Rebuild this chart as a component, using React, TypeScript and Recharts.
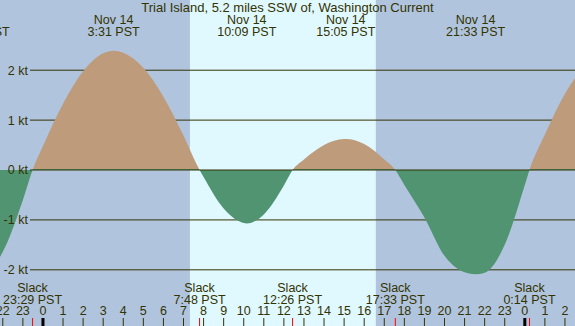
import React from "react";
import { ComposedChart, Area, XAxis, YAxis, ReferenceArea, ReferenceLine } from "recharts";

const W = 575;
const H = 326;
const FONT = '"Liberation Sans", Arial, sans-serif';
const FS = 12.5;
const INK = "#333300";
const NIGHT = "#B0C4DE";
const DAY = "#E0F8FF";
const FLOOD = "#BD9B7B";
const EBB = "#509472";

// hours after midnight Nov 14 (negative = Nov 13, >24 = Nov 15)
const hours = [
  -4, -3.13, -3, -2, -1, -0.517, 0, 1, 2, 3, 3.517, 4, 5, 6, 7, 7.8, 8, 9, 10, 10.15,
  11, 12, 12.433, 13, 14, 15, 15.083, 16, 17, 17.55, 18, 19, 20, 21, 21.55, 22, 23, 24,
  24.233, 25, 26, 27,
];
// current speed in knots (+ flood, - ebb)
const knots = [
  -1.84, -2.12, -2.11, -1.64, -0.6, 0, 0.48, 1.33, 1.98, 2.34, 2.39, 2.35, 2.05, 1.47, 0.69, 0, -0.14, -0.77, -1.06, -1.07,
  -0.89, -0.31, 0, 0.21, 0.5, 0.62, 0.62, 0.52, 0.21, 0, -0.3, -0.95, -1.72, -2.05, -2.09, -2.06, -1.5, -0.3,
  0, 0.71, 1.53, 2.1,
];
const data = hours.map((t, i) => ({ t, v: knots[i] }));

const hourTicks = [-2, -1, 0, 1, 2, 3, 4, 5, 6, 7, 8, 9, 10, 11, 12, 13, 14, 15, 16, 17, 18, 19, 20, 21, 22, 23, 24, 25, 26];
const midnightTicks = [0, 24];
const gridKnots = [2, 1, -1, -2];
const labelKnots = [2, 1, 0, -1, -2];

const sunrise = 7.32;
const sunset = 16.58;

const maxTimes = [-3.13, 3.517, 10.15, 15.083, 21.55];
const maxDates = ["Nov 13", "Nov 14", "Nov 14", "Nov 14", "Nov 14"];
const maxLabels = ["20:52 PST", "3:31 PST", "10:09 PST", "15:05 PST", "21:33 PST"];

const slackTimes = [-0.517, 7.8, 12.433, 17.55, 24.233];
const slackLabels = ["23:29 PST", "7:48 PST", "12:26 PST", "17:33 PST", "0:14 PST"];

const X_DOMAIN = [-2.14, 26.5];
const Y_MIN = -3.146;
const Y_MAX = 3.407;
const GRID_START = -0.65;
const zeroOffset = Y_MAX / (Y_MAX - Y_MIN);

const allTicks = [...hourTicks, ...slackTimes].sort((a, b) => a - b);

const twoLine = (first: string, second: string, y1: number, y2: number) => (props: any) => {
  const x = props.viewBox ? props.viewBox.x : 0;
  return (
    <text textAnchor="middle" fill={INK} fontSize={FS} fontFamily={FONT}>
      <tspan x={x} y={y1}>{first}</tspan>
      <tspan x={x} y={y2}>{second}</tspan>
    </text>
  );
};

const hourLabel = (h: number) => String(((h % 24) + 24) % 24);

// tick mark + hour number; slack ticks red, midnight ticks thick
const HourTick = (props: any) => {
  const { x, y, payload } = props;
  const v = payload.value;
  const isSlack = slackTimes.includes(v);
  const isMidnight = midnightTicks.includes(v);
  const stroke = isSlack ? "#FF0000" : isMidnight ? "#000000" : INK;
  const sw = isMidnight ? 3 : 1;
  return (
    <g>
      <line x1={x} x2={x} y1={y + 3} y2={y + 12} stroke={stroke} strokeWidth={sw} />
      {!isSlack && (
        <text x={x} y={y} textAnchor="middle" fill={INK} fontSize={FS} fontFamily={FONT}>
          {hourLabel(v)}
        </text>
      )}
    </g>
  );
};

export default function App() {
  return (
    <div style={{ position: "absolute", left: 0, top: 0, width: W, height: H, background: NIGHT, overflow: "hidden", fontFamily: FONT }}>
      <ComposedChart width={W} height={H} data={data} margin={{ top: 0, right: 0, bottom: -1, left: 0 }}>
        <defs>
          <linearGradient id="currentFill" gradientUnits="userSpaceOnUse" x1="0" y1="0" x2="0" y2={H}>
            <stop offset={zeroOffset} stopColor={FLOOD} />
            <stop offset={zeroOffset} stopColor={EBB} />
          </linearGradient>
        </defs>
        <XAxis
          dataKey="t" type="number" domain={X_DOMAIN} allowDataOverflow
          ticks={allTicks} interval={0}
          mirror height={1} tickSize={9} tickMargin={3}
          axisLine={false} tickLine={false}
          tick={<HourTick />}
        />
        <YAxis type="number" domain={[Y_MIN, Y_MAX]} allowDataOverflow hide />

        <ReferenceArea x1={sunrise} x2={sunset} fill={DAY} fillOpacity={1} stroke="none" zIndex={-90} />

        {gridKnots.map((k) => (
          <ReferenceLine
            key={"g" + k}
            segment={[{ x: GRID_START, y: k }, { x: X_DOMAIN[1], y: k }]}
            stroke={INK} strokeWidth={1} zIndex={-80}
          />
        ))}

        <Area
          dataKey="v" type="monotone" baseValue={0}
          fill="url(#currentFill)" fillOpacity={1} stroke="none"
          isAnimationActive={false} dot={false} activeDot={false}
        />

        <ReferenceLine
          segment={[{ x: GRID_START, y: 0 }, { x: X_DOMAIN[1], y: 0 }]}
          stroke={INK} strokeWidth={1}
        />

        {labelKnots.map((k) => (
          <ReferenceLine
            key={"l" + k}
            segment={[{ x: GRID_START, y: k }, { x: X_DOMAIN[1], y: k }]}
            stroke="none"
            label={{ value: `${k} kt`, position: "left", offset: 2, fill: INK, fontSize: FS, fontFamily: FONT }}
          />
        ))}

        {maxTimes.map((t, i) => (
          <ReferenceLine
            key={"m" + i} x={t} stroke="none" ifOverflow="visible"
            label={{ content: twoLine(maxDates[i], maxLabels[i], 24, 36) }}
          />
        ))}

        {slackTimes.map((t, i) => (
          <ReferenceLine
            key={"s" + i} x={t} stroke="none" ifOverflow="visible"
            label={{ content: twoLine("Slack", slackLabels[i], 292, 304) }}
          />
        ))}
      </ComposedChart>
      <div style={{ position: "absolute", left: 0, top: 1, width: W, textAlign: "center", fontSize: 13, lineHeight: "14px", color: INK }}>
        Trial Island, 5.2 miles SSW of, Washington Current
      </div>
    </div>
  );
}
